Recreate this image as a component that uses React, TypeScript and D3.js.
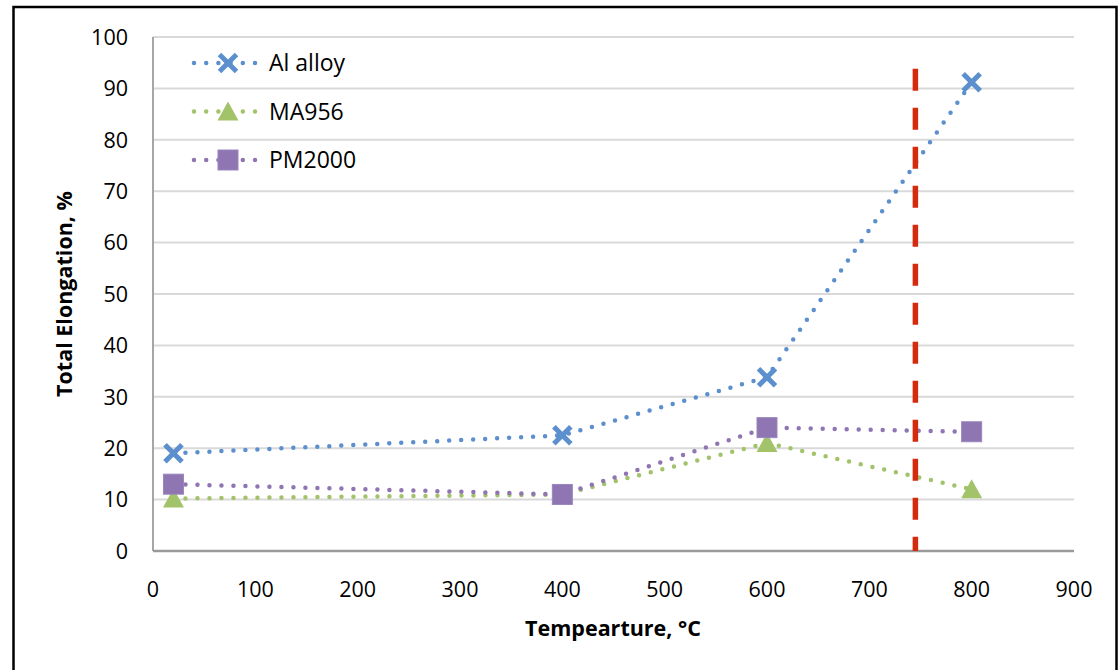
import React from "react";
import * as d3 from "d3";

const temps = [20, 400, 600, 800];
const alAlloy = [19, 22.5, 33.8, 91.2];
const ma956 = [10.2, 11, 21, 12];
const pm2000 = [13, 11, 24, 23.2];
const seriesNames = ["Al alloy", "MA956", "PM2000"];
const seriesColors = ["#5b8fcd", "#a3c36a", "#8f75b1"];
const seriesMarkers = ["x", "triangle", "square"];
const xTicks = [0, 100, 200, 300, 400, 500, 600, 700, 800, 900];
const yTicks = [0, 10, 20, 30, 40, 50, 60, 70, 80, 90, 100];
const refTemp = [745, 745];
const refVal = [0, 93.8];

const W = 1118;
const H = 670;
const FONT = "'Open Sans', 'Noto Sans', sans-serif";

function Marker({ type, x, y, color }: { type: string; x: number; y: number; color: string }) {
  if (type === "x") {
    const s = 8.5;
    return (
      <g stroke={color} strokeWidth={5} strokeLinecap="butt">
        <line x1={x - s} y1={y - s} x2={x + s} y2={y + s} />
        <line x1={x - s} y1={y + s} x2={x + s} y2={y - s} />
      </g>
    );
  }
  if (type === "triangle") {
    const w = 10.5;
    return <path d={`M${x},${y - 10} L${x + w},${y + 9} L${x - w},${y + 9} Z`} fill={color} />;
  }
  return <rect x={x - 10} y={y - 10} width={20} height={20} fill={color} stroke="#9a86bd" strokeWidth={1} />;
}

export default function App() {
  const x = d3.scaleLinear().domain([0, 900]).range([153, 1074]);
  const y = d3.scaleLinear().domain([0, 100]).range([551, 37]);
  const allSeries = [alAlloy, ma956, pm2000];
  const line = d3
    .line<[number, number]>()
    .x((d) => x(d[0]))
    .y((d) => y(d[1]))
    .curve(d3.curveLinear);

  return (
    <svg
      width={W}
      height={H}
      style={{ position: "absolute", left: 0, top: 0, background: "#fff" }}
      fontFamily={FONT}
    >
      <rect x={0} y={0} width={W} height={H} fill="#fff" />
      <rect x={13.5} y={7} width={1103} height={700} fill="none" stroke="#000" strokeWidth={2.5} />

      {yTicks.map((t) => (
        <line key={"g" + t} x1={x(0)} x2={x(900)} y1={y(t)} y2={y(t)} stroke="#d9d9d9" strokeWidth={2} />
      ))}
      <line x1={x(0)} x2={x(0)} y1={y(100)} y2={y(0)} stroke="#a6a6a6" strokeWidth={2} />
      <line x1={x(0)} x2={x(900)} y1={y(0)} y2={y(0)} stroke="#9a9a9a" strokeWidth={2.5} />

      {yTicks.map((t) => (
        <text key={"yt" + t} x={128} y={y(t)} dy="0.36em" textAnchor="end" fontSize={21.5} fill="#000">
          {t}
        </text>
      ))}
      {xTicks.map((t) => (
        <text key={"xt" + t} x={x(t)} y={597} textAnchor="middle" fontSize={21.5} fill="#000">
          {t}
        </text>
      ))}

      <text x={613} y={636} textAnchor="middle" fontSize={21.5} fontWeight="bold" fill="#000">
        Tempearture, °C
      </text>
      <text
        transform={`translate(72,${y(50)}) rotate(-90)`}
        textAnchor="middle"
        fontSize={21.5}
        fontWeight="bold"
        fill="#000"
      >
        Total Elongation, %
      </text>

      {allSeries.map((vals, i) => (
        <path
          key={"l" + i}
          d={line(temps.map((t, j) => [t, vals[j]] as [number, number])) || ""}
          fill="none"
          stroke={seriesColors[i]}
          strokeWidth={4.5}
          strokeLinecap="round"
          strokeDasharray="0 12"
        />
      ))}

      <line
        x1={x(refTemp[0])}
        x2={x(refTemp[1])}
        y1={y(refVal[1])}
        y2={y(refVal[0])}
        stroke="#d42a0e"
        strokeWidth={5.5}
        strokeDasharray="22 17"
      />

      {allSeries.map((vals, i) =>
        temps.map((t, j) => (
          <Marker key={`m${i}-${j}`} type={seriesMarkers[i]} x={x(t)} y={y(vals[j])} color={seriesColors[i]} />
        ))
      )}

      {seriesNames.map((name, i) => {
        const ly = 63 + i * 48.5;
        return (
          <g key={"lg" + i}>
            <line
              x1={194}
              x2={256}
              y1={ly}
              y2={ly}
              stroke={seriesColors[i]}
              strokeWidth={4.5}
              strokeLinecap="round"
              strokeDasharray="0 12.2"
            />
            <Marker type={seriesMarkers[i]} x={228} y={ly} color={seriesColors[i]} />
            <text x={269} y={ly} dy="0.36em" fontSize={23} fill="#000">
              {name}
            </text>
          </g>
        );
      })}
    </svg>
  );
}
